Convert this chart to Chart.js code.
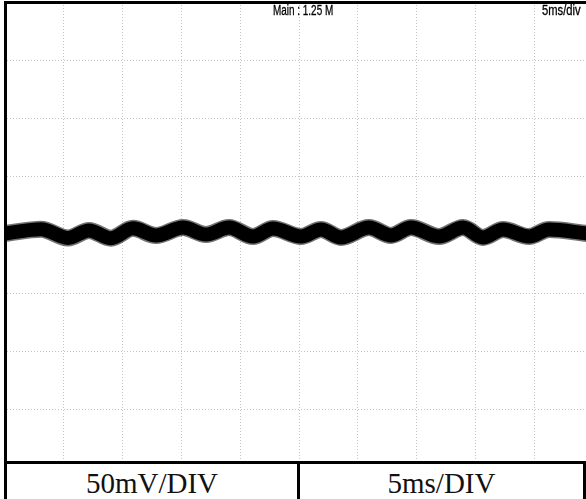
<!DOCTYPE html>
<html>
<head>
  <meta charset="UTF-8" />
  <title>Scope capture</title>
  <script src="https://cdn.jsdelivr.net/npm/chart.js"></script>
  <style>
    body { margin: 0; width: 586px; height: 499px; overflow: hidden; background: #fff; position: relative; }
    #scope { position: absolute; left: 0; top: 0; }
    .top-label { position: absolute; top: 3px; font-family: 'Liberation Sans', Arial, sans-serif; font-size: 14px; line-height: 14px; color: #000; transform-origin: left top; white-space: nowrap; -webkit-text-stroke: 0.3px #000; }
    #tbl { position: absolute; left: 4px; top: 461px; width: 576px; height: 40px; border: 3px solid #000; border-bottom: none; display: flex; background: #fff; }
    .cell { font-family: 'Liberation Serif', 'Times New Roman', serif; font-size: 29px; line-height: 28px; padding-top: 5px; text-align: center; color: #111; }
  </style>
</head>
<body>
  <canvas id="scope" width="600" height="470"></canvas>
  <div class="top-label" style="left:273px; transform:scaleX(0.71)">Main : 1.25 M</div>
  <div class="top-label" style="left:542px; transform:scaleX(0.8)">5ms/div</div>
  <div id="tbl">
    <div class="cell" style="width:290px; border-right:3px solid #000">50mV/DIV</div>
    <div class="cell" style="flex:1">5ms/DIV</div>
  </div>

  <script>
    // trace (time in ms, level in mV around the centre line)
    const timeMs = [0.1, 3.06, 5.36, 7.14, 9.01, 10.88, 12.84, 15.14, 17.09, 19.05, 21.09, 22.79, 25.17,
                    26.87, 28.57, 30.95, 32.82, 34.52, 36.90, 38.95, 40.64, 42.35, 44.56, 46.26, 49.49];
    const levelMv = [1.5, 5.0, -2.5, 3.9, -2.8, 5.7, -0.4, 6.4, 0.4, 6.4, -1.3, 5.6, -1.3,
                     4.7, -2.1, 6.4, -0.4, 6.4, -1.3, 6.4, -2.1, 4.7, -1.3, 4.7, 1.3];

    // 10 x 5ms divisions, 8 x 50mV divisions
    const timeRange = [0, 50];
    const timeStep = 5;
    const levelRange = [-200, 200];
    const levelStep = 50;

    const points = timeMs.map((t, i) => ({ x: t, y: levelMv[i] }));
    const gridStyle = { color: '#c4c4c4', lineWidth: 1, drawTicks: false };

    new Chart(document.getElementById('scope'), {
      type: 'line',
      data: {
        datasets: [
          {
            // noisy fringe round the trace
            data: points,
            borderColor: 'rgba(0,0,0,0.55)',
            borderWidth: 17,
            pointRadius: 0,
            cubicInterpolationMode: 'monotone',
            fill: false
          },
          {
            data: points,
            borderColor: '#000',
            borderWidth: 14,
            pointRadius: 0,
            cubicInterpolationMode: 'monotone',
            fill: false
          }
        ]
      },
      options: {
        responsive: false,
        animation: false,
        layout: { padding: { left: 5, top: 2, right: 7, bottom: 2 } },
        plugins: { legend: { display: false }, tooltip: { enabled: false } },
        scales: {
          x: {
            type: 'linear', min: timeRange[0], max: timeRange[1],
            ticks: { display: false, stepSize: timeStep },
            grid: gridStyle,
            border: { display: false, dash: [1, 2] }
          },
          xTop: {
            type: 'linear', position: 'top', min: timeRange[0], max: timeRange[1],
            ticks: { display: false },
            grid: { display: false, drawTicks: false },
            border: { color: '#000', width: 3 }
          },
          y: {
            min: levelRange[0], max: levelRange[1],
            ticks: { display: false, stepSize: levelStep },
            grid: gridStyle,
            border: { color: '#000', width: 3, dash: [1, 2] }
          }
        }
      }
    });
  </script>
</body>
</html>
